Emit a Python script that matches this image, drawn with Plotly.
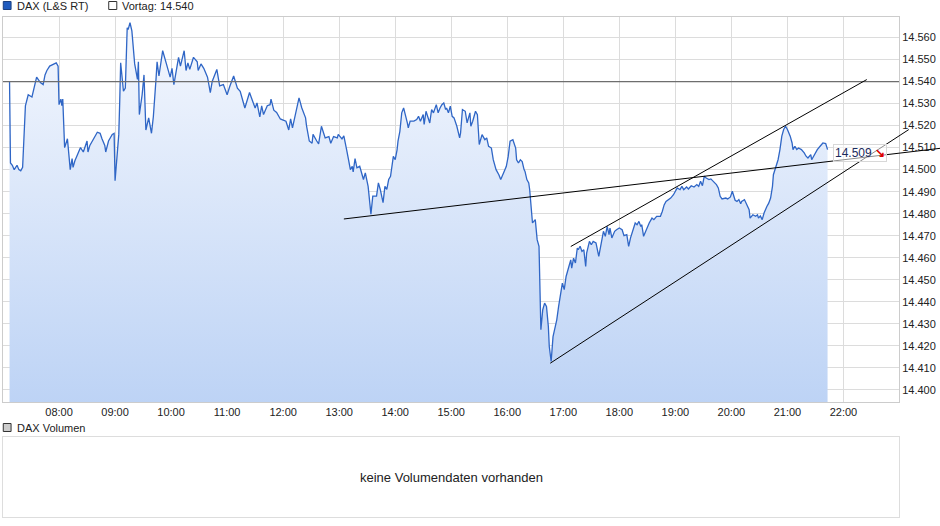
"""
DAX intraday (L&S RT) with previous-day close, hand-drawn trend lines
and an empty volume panel.
"""

import pandas as pd
import plotly.graph_objects as go

DAY = "2021-03-04"

times = [
    "07:07", "07:08", "07:10", "07:12", "07:15", "07:17", "07:19", "07:21", "07:24", "07:26",
    "07:27", "07:31", "07:34", "07:36", "07:40", "07:43", "07:45", "07:47", "07:50", "07:54",
    "07:57", "07:59", "08:00", "08:02", "08:03", "08:04", "08:06", "08:09", "08:12", "08:14",
    "08:15", "08:17", "08:20", "08:23", "08:26", "08:30", "08:31", "08:33", "08:41", "08:44",
    "08:46", "08:49", "08:50", "08:53", "08:57", "08:59", "09:00", "09:02", "09:04", "09:05",
    "09:06", "09:09", "09:11", "09:13", "09:14", "09:16", "09:18", "09:21", "09:24", "09:25",
    "09:26", "09:29", "09:31", "09:33", "09:36", "09:39", "09:41", "09:44", "09:45", "09:47",
    "09:51", "09:55", "09:57", "09:59", "10:01", "10:03", "10:08", "10:10", "10:14", "10:16",
    "10:18", "10:20", "10:24", "10:28", "10:29", "10:32", "10:35", "10:39", "10:42", "10:44",
    "10:49", "10:52", "10:56", "11:00", "11:03", "11:07", "11:11", "11:14", "11:19", "11:24",
    "11:26", "11:30", "11:32", "11:35", "11:37", "11:39", "11:43", "11:46", "11:47", "11:50",
    "11:53", "11:57", "12:00", "12:03", "12:06", "12:08", "12:10", "12:13", "12:15", "12:17",
    "12:20", "12:24", "12:25", "12:28", "12:31", "12:32", "12:36", "12:38", "12:41", "12:45",
    "12:49", "12:51", "12:54", "12:58", "12:59", "13:03", "13:05", "13:06", "13:08", "13:10",
    "13:12", "13:14", "13:15", "13:17", "13:19", "13:22", "13:24", "13:26", "13:28", "13:30",
    "13:31", "13:34", "13:36", "13:40", "13:42", "13:44", "13:47", "13:49", "13:51", "13:53",
    "13:55", "13:58", "14:00", "14:02", "14:03", "14:05", "14:07", "14:09", "14:11", "14:13",
    "14:14", "14:16", "14:20", "14:23", "14:25", "14:27", "14:30", "14:31", "14:33", "14:35",
    "14:37", "14:39", "14:41", "14:44", "14:46", "14:48", "14:50", "14:52", "14:54", "14:55",
    "14:57", "14:59", "15:01", "15:03", "15:06", "15:09", "15:10", "15:12", "15:15", "15:17",
    "15:20", "15:21", "15:23", "15:26", "15:28", "15:30", "15:33", "15:36", "15:38", "15:40",
    "15:43", "15:45", "15:48", "15:51", "15:53", "15:56", "15:59", "16:01", "16:03", "16:06",
    "16:09", "16:10", "16:12", "16:14", "16:16", "16:18", "16:19", "16:21", "16:23", "16:24",
    "16:25", "16:27", "16:30", "16:32", "16:34", "16:35", "16:36", "16:38", "16:40", "16:42",
    "16:44", "16:45", "16:47", "16:49", "16:50", "16:53", "16:55", "16:57", "16:59", "17:01",
    "17:03", "17:06", "17:08", "17:09", "17:11", "17:13", "17:15", "17:16", "17:18", "17:20",
    "17:22", "17:24", "17:25", "17:28", "17:30", "17:32", "17:35", "17:38", "17:40", "17:41",
    "17:43", "17:45", "17:47", "17:49", "17:50", "17:52", "17:55", "17:57", "18:00", "18:03",
    "18:05", "18:08", "18:10", "18:12", "18:15", "18:17", "18:19", "18:21", "18:23", "18:24",
    "18:26", "18:28", "18:30", "18:32", "18:35", "18:37", "18:40", "18:44", "18:46", "18:48",
    "18:50", "18:53", "18:55", "18:58", "19:00", "19:02", "19:05", "19:07", "19:09", "19:12",
    "19:14", "19:17", "19:20", "19:23", "19:25", "19:27", "19:29", "19:31", "19:33", "19:36",
    "19:38", "19:41", "19:44", "19:46", "19:48", "19:50", "19:54", "19:56", "19:59", "20:01",
    "20:03", "20:04", "20:06", "20:08", "20:10", "20:11", "20:14", "20:16", "20:19", "20:20",
    "20:23", "20:26", "20:28", "20:29", "20:31", "20:33", "20:35", "20:38", "20:40", "20:42",
    "20:44", "20:45", "20:47", "20:50", "20:52", "20:53", "20:54", "20:56", "20:58", "21:00",
    "21:01", "21:03", "21:05", "21:06", "21:08", "21:10", "21:12", "21:15", "21:18", "21:20",
    "21:22", "21:25", "21:26", "21:29", "21:32", "21:35", "21:38", "21:41", "21:43",
]

prices = [
    14540, 14503, 14502, 14500, 14502, 14500, 14499.5, 14501, 14529, 14532,
    14534, 14533, 14538, 14542, 14539.5, 14538.6, 14543, 14545, 14547, 14548,
    14548.5, 14547, 14529.5, 14532, 14529, 14532, 14510, 14514, 14500, 14505,
    14501, 14504, 14507, 14510, 14508, 14513, 14508, 14511, 14517, 14516.5,
    14514, 14511, 14508, 14513, 14516, 14516.5, 14495, 14505, 14516, 14531,
    14548.5, 14535.6, 14537, 14564.4, 14563.6, 14566.7, 14563, 14548, 14541, 14549,
    14525, 14534, 14543, 14518, 14523.5, 14516.5, 14524, 14542, 14549, 14542.5,
    14554, 14548, 14545, 14542, 14546, 14538.6, 14551, 14547, 14554, 14545,
    14548.5, 14545.5, 14551, 14549, 14545, 14548, 14546, 14542, 14535, 14540,
    14545.5, 14538, 14538.6, 14534, 14538, 14542.5, 14537, 14535.6, 14528, 14535,
    14532.6, 14528, 14530.3, 14524, 14529, 14525, 14529, 14529.5, 14532, 14527,
    14526, 14523, 14522.5, 14522, 14518, 14523, 14519, 14525, 14528, 14532.6,
    14528, 14523.5, 14520, 14513, 14512, 14516, 14513, 14511.7, 14519.7, 14514.4,
    14515, 14512, 14515, 14514.4, 14516, 14514, 14515.3, 14513.6, 14509, 14504.5,
    14500, 14501.5, 14499, 14505, 14500.8, 14501.5, 14498.5, 14495.5, 14498.5, 14494.7,
    14492.4, 14479.8, 14488, 14488, 14494, 14491, 14485, 14492.4, 14491, 14495.5,
    14497, 14506, 14504.5, 14509, 14512.9, 14517.4, 14525.8, 14528, 14525, 14521.2,
    14519, 14522, 14522, 14522.7, 14524.2, 14522, 14525, 14520.5, 14526.5, 14523.5,
    14521.2, 14527.3, 14525.8, 14529.5, 14525.8, 14528, 14529.5, 14530.3, 14527.3, 14528,
    14525.8, 14528.8, 14524.2, 14523.5, 14519.7, 14514.4, 14516.7, 14527.3, 14526.5, 14521.2,
    14525.8, 14519.7, 14522, 14526.5, 14525, 14511.4, 14515.9, 14513.6, 14514.4, 14510.6,
    14509.8, 14504.5, 14500, 14497.7, 14495.5, 14498.5, 14501.5, 14506, 14512.9, 14513.6,
    14509.8, 14504.5, 14503, 14504.5, 14503.7, 14500, 14499.2, 14495.5, 14494, 14491,
    14484.8, 14475.8, 14477.3, 14468.2, 14465.2, 14447, 14427.3, 14436.4, 14439.4, 14437.9,
    14428.8, 14419.7, 14412.9, 14424.2, 14425.8, 14431.8, 14437.9, 14444, 14448.5, 14445.5,
    14451.5, 14456, 14459, 14455.3, 14459.8, 14457.6, 14464.4, 14463.6, 14465.2, 14462.9,
    14463.6, 14456, 14462.1, 14467.4, 14465.9, 14467.4, 14466.7, 14460.6, 14465.2, 14467.4,
    14472, 14469.7, 14474.2, 14470.5, 14473.5, 14469, 14472, 14472.7, 14473.5, 14472.7,
    14470, 14470.5, 14465.2, 14469, 14473.5, 14475.8, 14475, 14476.5, 14474.2, 14475,
    14469.7, 14472, 14474.2, 14475.8, 14478, 14477.3, 14478.8, 14478.8, 14481, 14484,
    14485.6, 14486.4, 14487.1, 14488.6, 14490.2, 14491.7, 14490.9, 14492.4, 14490.9, 14492.1,
    14491.2, 14492.7, 14492.1, 14493.2, 14492.4, 14494.7, 14492.7, 14497, 14496.2, 14495.5,
    14495.8, 14494.7, 14493.2, 14491.7, 14487.9, 14486.7, 14487.1, 14486.7, 14487.6, 14490.2,
    14487.9, 14486.1, 14485.6, 14486.4, 14484.5, 14485.6, 14486.4, 14484.8, 14481.8, 14478,
    14479.5, 14478.8, 14479.5, 14478, 14479, 14477.3, 14480.3, 14483.3, 14484.8, 14487.1,
    14492.4, 14497.7, 14500.8, 14504.5, 14509.1, 14512.1, 14515.2, 14518.2, 14519.7, 14518.2,
    14517.4, 14515.2, 14512.1, 14509.1, 14510.6, 14509.1, 14509.8, 14509.1, 14507.6, 14506.1,
    14505.3, 14506.8, 14504.5, 14506.8, 14509.1, 14510.6, 14512.1, 14511.8, 14509.1,
]

prev_close = 14540

# trend lines: start time, start value, end time, end value
trend_start_times = ["13:05", "17:08", "16:46"]
trend_start_values = [14477.6, 14465.1, 14412.1]
trend_end_times = ["23:44", "22:25", "23:10"]
trend_end_values = [14509.7, 14540.9, 14518.2]

x_start, x_end = "07:00", "22:59:30"
y_min, y_max = 14394.5, 14569.3
main_domain = [0.23, 1.0]
vol_domain = [0.0, 0.16]


def ts(hhmm):
    return pd.Timestamp(f"{DAY} {hhmm}")


def de_num(v):
    return f"{round(v):,}".replace(",", ".")


def to_paper(hhmm, value):
    # axis-referenced shapes get clipped, so map trend lines to paper coords
    t0, t1 = ts(x_start), ts(x_end)
    xp = (ts(hhmm) - t0) / (t1 - t0)
    lo, hi = main_domain
    yp = lo + (value - y_min) / (y_max - y_min) * (hi - lo)
    return xp, yp


x_vals = [ts(t) for t in times]
font = "Liberation Sans, Arial, sans-serif"

fig = go.Figure()
fig.add_trace(
    go.Scatter(
        x=x_vals,
        y=prices,
        mode="lines",
        line=dict(color="#2f66c6", width=1.3),
        fill="tozeroy",
        fillgradient=dict(
            type="vertical",
            colorscale=[[0, "#bdd3f5"], [1, "#f5f8fe"]],
            start=y_min,
            stop=y_max,
        ),
        hoverinfo="skip",
    )
)

shapes = [
    # Vortag line
    dict(type="line", xref="paper", yref="y", x0=0, x1=1, y0=prev_close, y1=prev_close,
         line=dict(color="#6e6e6e", width=1.2)),
    # legend squares
    dict(type="rect", xref="paper", yref="paper", x0=0.0003, x1=0.009, y0=1.015, y1=1.031,
         fillcolor="#1f5bbf", line=dict(color="#1a3f80", width=1)),
    dict(type="rect", xref="paper", yref="paper", x0=0.118, x1=0.127, y0=1.015, y1=1.031,
         fillcolor="white", line=dict(color="#333333", width=1)),
    dict(type="rect", xref="paper", yref="paper", x0=0.0003, x1=0.009, y0=0.171, y1=0.187,
         fillcolor="#cccccc", line=dict(color="#333333", width=1)),
]
for st, sv, et, ev in zip(trend_start_times, trend_start_values,
                          trend_end_times, trend_end_values):
    x0, y0 = to_paper(st, sv)
    x1, y1 = to_paper(et, ev)
    shapes.append(dict(type="line", xref="paper", yref="paper", x0=x0, y0=y0, x1=x1, y1=y1,
                       line=dict(color="black", width=1)))

annotations = [
    dict(text="DAX (L&S RT)", xref="paper", yref="paper", x=0.013, y=1.023,
         xanchor="left", yanchor="middle", showarrow=False,
         font=dict(family=font, size=11, color="#222222")),
    dict(text=f"Vortag: {de_num(prev_close)}", xref="paper", yref="paper", x=0.131, y=1.023,
         xanchor="left", yanchor="middle", showarrow=False,
         font=dict(family=font, size=11, color="#222222")),
    dict(text="DAX Volumen", xref="paper", yref="paper", x=0.013, y=0.179,
         xanchor="left", yanchor="middle", showarrow=False,
         font=dict(family=font, size=11, color="#222222")),
    dict(text="keine Volumendaten vorhanden", xref="paper", yref="paper", x=0.5, y=0.08,
         xanchor="center", yanchor="middle", showarrow=False,
         font=dict(family=font, size=13, color="#222222")),
    # last price label (trend lines show through it, as in the original)
    dict(text=f"{de_num(prices[-1])} <b><span style='color:#e00000'>↘</span></b>",
         xref="x", yref="y", x=x_vals[-1], y=prices[-1], xshift=5, yshift=-3,
         xanchor="left", yanchor="middle", showarrow=False,
         bgcolor="rgba(255,255,255,0.55)", bordercolor="#d8d8d8", borderwidth=1, borderpad=1,
         font=dict(family=font, size=12, color="#1c2b5e")),
]

fig.update_layout(
    width=940,
    height=526,
    margin=dict(l=3, r=41, t=17, b=9),
    paper_bgcolor="white",
    plot_bgcolor="white",
    showlegend=False,
    separators=",.",
    font=dict(family=font, size=11, color="#222222"),
    shapes=shapes,
    annotations=annotations,
    xaxis=dict(
        type="date",
        range=[ts(x_start), ts(x_end)],
        domain=[0, 1],
        anchor="y",
        tickformat="%H:%M",
        dtick=3600000,
        tick0=ts("08:00"),
        showgrid=True,
        gridcolor="#dcdcdc",
        gridwidth=1,
        showline=True,
        mirror=True,
        linecolor="#cccccc",
        ticks="",
        zeroline=False,
        tickfont=dict(family=font, size=11, color="#222222"),
    ),
    yaxis=dict(
        range=[y_min, y_max],
        domain=main_domain,
        side="right",
        dtick=10,
        tick0=14400,
        tickformat=",d",
        showgrid=True,
        gridcolor="#dcdcdc",
        gridwidth=1,
        showline=True,
        mirror=True,
        linecolor="#cccccc",
        ticks="",
        zeroline=False,
        tickfont=dict(family=font, size=11, color="#222222"),
    ),
    xaxis2=dict(
        domain=[0, 1], anchor="y2", range=[0, 1],
        showgrid=False, showticklabels=False, zeroline=False,
        showline=True, mirror=True, linecolor="#dddddd", ticks="",
    ),
    yaxis2=dict(
        domain=vol_domain, anchor="x2", range=[0, 1],
        showgrid=False, showticklabels=False, zeroline=False,
        showline=True, mirror=True, linecolor="#dddddd", ticks="",
    ),
)

# dummy trace so the volume panel axes get drawn
fig.add_trace(go.Scatter(x=[], y=[], xaxis="x2", yaxis="y2", hoverinfo="skip"))

# drop the default page margin so the chart sits at the window's corner
fig.write_html(
    "out.html",
    config={"displayModeBar": False},
    post_script="document.body.style.margin='0';",
)
